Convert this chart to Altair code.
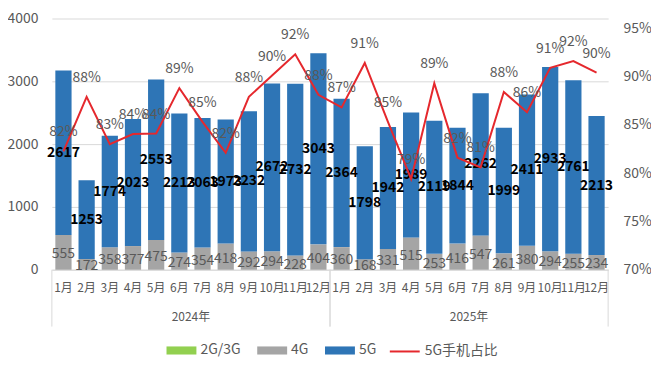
import altair as alt
import pandas as pd

# ---------------- data ----------------
years = ["2024年", "2025年"]
months = ["1月", "2月", "3月", "4月", "5月", "6月", "7月", "8月", "9月", "10月", "11月", "12月"]
labels = [y + m for y in years for m in months]

g23 = [0, 0, 0, 0, 0, 0, 0, 0, 0, 0, 0, 0,
       0, 0, 0, 0, 0, 0, 0, 0, 0, 0, 0, 0]
g4 = [555, 172, 358, 377, 475, 274, 354, 418, 292, 294, 228, 404,
      360, 168, 331, 515, 253, 416, 547, 261, 380, 294, 255, 234]
g5 = [2617, 1253, 1774, 2023, 2553, 2213, 2063, 1973, 2232, 2672, 2732, 3043,
      2364, 1798, 1942, 1989, 2119, 1844, 2262, 1999, 2411, 2933, 2761, 2213]
share = [82.25, 87.9, 83.0, 84.05, 84.1, 88.8, 85.3, 82.1, 87.9, 90.1, 92.3, 88.1,
         86.8, 91.4, 85.3, 79.4, 89.3, 81.6, 80.6, 88.4, 86.3, 90.9, 91.6, 90.4]

series_names = ["2G/3G", "4G", "5G"]
series_colors = ["#92D050", "#A5A5A5", "#2E75B6"]
line_name = "5G手机占比"
line_color = "#E5282D"

year_first = ["2024年1月", "2025年1月"]
year_last = ["2024年12月", "2025年12月"]
year_mid = ["2024年6月", "2025年6月"]

# ---------------- tables ----------------
rows = []
for i, lab in enumerate(labels):
    for k, (name, vals) in enumerate(zip(series_names, [g23, g4, g5])):
        rows.append({"label": lab, "series": name, "ord": k, "value": vals[i]})
bars_df = pd.DataFrame(rows)
line_df = pd.DataFrame({"label": labels, "share": share, "series": [line_name] * len(labels)})
years_df = pd.DataFrame({"year": years, "first": year_first, "last": year_last, "mid": year_mid})

FONT = "Noto Sans CJK SC"
W, H = 558, 252
PI = 0.3
half_gap = (W / len(labels)) * PI / 2

xscale = alt.Scale(domain=labels, paddingInner=PI, paddingOuter=PI / 2)
xaxis = alt.Axis(title=None, ticks=False, domainColor="#D9D9D9", labelAngle=0,
                 labelExpr="split(datum.value, '年')[1]", labelFont=FONT,
                 labelFontSize=12, labelColor="#595959", labelPadding=13)

base = alt.Chart(bars_df)

bars = base.mark_bar().encode(
    x=alt.X("label:N", scale=xscale, axis=xaxis),
    y=alt.Y("value:Q", stack="zero",
            scale=alt.Scale(domain=[0, 4000]),
            axis=alt.Axis(title=None, values=list(range(0, 4001, 500)), ticks=False,
                          format="d",
                          domain=False, gridColor="#D9D9D9", labelFont=FONT,
                          labelFontSize=14, labelColor="#595959", labelPadding=14)),
    color=alt.Color("series:N",
                    scale=alt.Scale(domain=series_names, range=series_colors),
                    legend=alt.Legend(title=None, orient="none", direction="horizontal",
                                      legendX=115, legendY=318,
                                      symbolType="M-1,-0.27H1V0.27H-1Z", symbolSize=900,
                                      symbolStrokeWidth=0, labelFont=FONT, labelFontSize=14,
                                      labelColor="#595959", labelOffset=4, columnPadding=16)),
    order=alt.Order("ord:Q", sort="ascending"),
)

stacked = base.transform_stack(
    stack="value", groupby=["label"], as_=["v0", "v1"],
    sort=[alt.SortField("ord", order="ascending")],
).transform_calculate(mid="(datum.v0 + datum.v1) / 2")

txt5 = stacked.transform_filter("datum.series == '5G'").mark_text(
    font=FONT, fontSize=14, fontWeight="bold", color="#000000", baseline="middle"
).encode(x=alt.X("label:N", scale=xscale), y=alt.Y("mid:Q"), text=alt.Text("value:Q"))

txt4 = stacked.transform_filter("datum.series == '4G'").mark_text(
    font=FONT, fontSize=14, color="#595959", baseline="middle", dy=2
).encode(x=alt.X("label:N", scale=xscale), y=alt.Y("mid:Q"), text=alt.Text("value:Q"))

seps_first = alt.Chart(years_df).mark_rule(color="#D9D9D9", strokeWidth=1,
                                           xOffset=-half_gap).encode(
    x=alt.X("first:N", scale=xscale, bandPosition=0),
    y=alt.value(H), y2=alt.value(H + 57))
seps_last = alt.Chart(years_df).mark_rule(color="#D9D9D9", strokeWidth=1,
                                          xOffset=half_gap).encode(
    x=alt.X("last:N", scale=xscale, bandPosition=1),
    y=alt.value(H), y2=alt.value(H + 57))
year_text = alt.Chart(years_df).mark_text(
    font=FONT, fontSize=12, color="#595959", baseline="middle", xOffset=half_gap
).encode(x=alt.X("mid:N", scale=xscale, bandPosition=1), y=alt.value(H + 47),
         text="year:N")

left = alt.layer(bars, txt5, txt4, seps_first, seps_last, year_text)

line = alt.Chart(line_df).mark_line(strokeWidth=2).encode(
    x=alt.X("label:N", scale=xscale),
    y=alt.Y("share:Q", scale=alt.Scale(domain=[70, 95]),
            axis=alt.Axis(title=None, orient="right", values=[70, 75, 80, 85, 90, 95],
                          labelExpr="datum.value + '%'", ticks=False, domain=False, grid=False,
                          labelFont=FONT, labelFontSize=14, labelColor="#595959",
                          labelPadding=15)),
    stroke=alt.Stroke("series:N", scale=alt.Scale(domain=[line_name], range=[line_color]),
                      legend=alt.Legend(title=None, orient="none", legendX=338, legendY=318,
                                        symbolType="stroke", symbolSize=900,
                                        symbolStrokeWidth=2, labelFont=FONT, labelFontSize=14,
                                        labelColor="#595959", labelOffset=4)),
)
line_txt = alt.Chart(line_df).transform_calculate(
    lbl="format(datum.share, '.0f') + '%'"
).mark_text(
    font=FONT, fontSize=14, color="#595959", baseline="middle", dy=-19
).encode(x=alt.X("label:N", scale=xscale), y=alt.Y("share:Q"), text="lbl:N")

right = alt.layer(line, line_txt)

chart = alt.layer(left, right).resolve_scale(y="independent").properties(
    width=W, height=H,
    autosize=alt.AutoSizeParams(type="none"),
    padding={"left": 44, "top": 10, "right": 43, "bottom": 90},
).configure_view(stroke=None).configure_legend(padding=0)

chart.save("out.html", embed_options={"renderer": "svg", "actions": False})
